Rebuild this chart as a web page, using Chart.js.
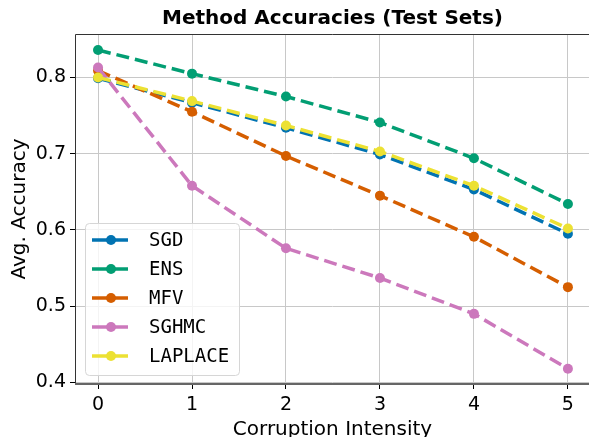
<!DOCTYPE html>
<html>
<head>
<meta charset="utf-8">
<script src="https://cdn.jsdelivr.net/npm/chart.js@4"></script>
<style>
    html, body { margin: 0; padding: 0; background: #fff; overflow: hidden; }
    /* a bit wider than the window: the right spine sits just outside, as in the reference */
    #wrap { width: 595px; height: 437px; }
</style>
</head>
<body>
<div id="wrap"><canvas id="chart"></canvas></div>
<script>
'use strict';

// corruption levels on the x axis
const intensities = [0, 1, 2, 3, 4, 5];
const yTickValues = [0.4, 0.5, 0.6, 0.7, 0.8];

// accuracies
const methodNames = ['SGD', 'ENS', 'MFV', 'SGHMC', 'LAPLACE'];
const sgdAcc = [0.799, 0.767, 0.734, 0.699, 0.653, 0.595];
const ensAcc = [0.836, 0.805, 0.775, 0.741, 0.694, 0.634];
const mfvAcc = [0.809, 0.755, 0.697, 0.645, 0.591, 0.525];
const sghmcAcc = [0.813, 0.658, 0.576, 0.537, 0.490, 0.418];
const laplaceAcc = [0.800, 0.769, 0.737, 0.703, 0.658, 0.602];

const colors = ['#0173b2', '#029e73', '#d55e00', '#cc78bc', '#ece133'];
const seriesList = [sgdAcc, ensAcc, mfvAcc, sghmcAcc, laplaceAcc];

const FONT = "'DejaVu Sans', sans-serif";
const MONO = "'DejaVu Sans Mono', monospace";

/**
 * @brief builds one line dataset
 */
function makeDataset(i) {
    return {
        label: methodNames[i],
        data: intensities.map((x, k) => ({ x: x, y: seriesList[i][k] })),
        borderColor: colors[i],
        backgroundColor: colors[i],
        borderWidth: 3.5,
        borderDash: [13, 6],
        pointRadius: 5,
        pointHoverRadius: 5,
        pointBorderWidth: 0,
        pointBackgroundColor: colors[i],
        tension: 0,
        order: methodNames.length - i
    };
}

// center the title over the plot area, like matplotlib does
const titlePlacePlugin = {
    id: 'titlePlace',
    afterLayout(chart) {
        if (chart.titleBlock) {
            chart.titleBlock.left = chart.chartArea.left;
            chart.titleBlock.right = chart.chartArea.right;
        }
    }
};

// frame round the plot area (matplotlib style spines)
const framePlugin = {
    id: 'frame',
    afterDatasetsDraw(chart) {
        const a = chart.chartArea;
        const ctx = chart.ctx;
        ctx.save();
        ctx.strokeStyle = '#333';
        ctx.lineWidth = 1;
        ctx.beginPath();
        ctx.moveTo(a.left + 0.5, a.bottom);
        ctx.lineTo(a.left + 0.5, a.top + 0.5);
        ctx.lineTo(a.right, a.top + 0.5);
        ctx.lineTo(a.right, a.bottom);
        ctx.stroke();
        ctx.strokeStyle = '#666';
        ctx.lineWidth = 2;
        ctx.beginPath();
        ctx.moveTo(a.left, a.bottom);
        ctx.lineTo(a.right, a.bottom);
        ctx.stroke();
        ctx.restore();
    }
};

// legend inside the plot, lower left, line + marker samples
const legendPlugin = {
    id: 'innerLegend',
    afterDraw(chart) {
        const a = chart.chartArea;
        const ctx = chart.ctx;
        const boxW = 154, boxH = 152;
        const x0 = a.left + 10, y0 = a.bottom - 9 - boxH;
        ctx.save();
        ctx.fillStyle = 'rgba(255,255,255,0.8)';
        ctx.strokeStyle = '#d6d6d6';
        ctx.lineWidth = 1;
        ctx.beginPath();
        ctx.roundRect(x0 + 0.5, y0 + 0.5, boxW, boxH, 4);
        ctx.fill();
        ctx.stroke();
        ctx.font = '19px ' + MONO;
        ctx.textBaseline = 'middle';
        for (let i = 0; i < methodNames.length; i++) {
            const cy = y0 + 17 + i * 29;
            ctx.strokeStyle = colors[i];
            ctx.lineWidth = 3.5;
            ctx.beginPath();
            ctx.moveTo(x0 + 7, cy);
            ctx.lineTo(x0 + 43, cy);
            ctx.stroke();
            ctx.fillStyle = colors[i];
            ctx.beginPath();
            ctx.arc(x0 + 26, cy, 5, 0, Math.PI * 2);
            ctx.fill();
            ctx.fillStyle = '#000';
            ctx.fillText(methodNames[i], x0 + 64, cy + 1);
        }
        ctx.restore();
    }
};

const chart = new Chart(document.getElementById('chart'), {
    type: 'line',
    data: { datasets: methodNames.map((n, i) => makeDataset(i)) },
    plugins: [titlePlacePlugin, framePlugin, legendPlugin],
    options: {
        responsive: true,
        maintainAspectRatio: false,
        animation: false,
        layout: { padding: { left: 0, right: 0, top: 0, bottom: 0 } },
        plugins: {
            legend: { display: false },
            tooltip: { enabled: false },
            title: {
                display: true,
                text: 'Method Accuracies (Test Sets)',
                color: '#000',
                font: { family: FONT, size: 20, weight: 'bold', lineHeight: 1.2 },
                padding: { top: 7, bottom: 3 }
            }
        },
        scales: {
            x: {
                type: 'linear',
                min: -0.245,
                max: 5.235,
                afterBuildTicks: (s) => { s.ticks = intensities.map(v => ({ value: v })); },
                afterFit: (s) => { s.height = 53; s.paddingRight = 0; s.paddingLeft = 0; },
                border: { display: false },
                grid: { color: '#c8c8c8', lineWidth: 1, tickColor: '#000', tickLength: 5 },
                ticks: {
                    color: '#000',
                    padding: 5,
                    font: { family: FONT, size: 19 },
                    maxRotation: 0,
                    callback: (v) => String(v)
                },
                title: {
                    display: true,
                    text: 'Corruption Intensity',
                    color: '#000',
                    font: { family: FONT, size: 20 },
                    padding: { top: 0, bottom: -5 }
                }
            },
            y: {
                min: 0.398,
                max: 0.857,
                afterBuildTicks: (s) => { s.ticks = yTickValues.map(v => ({ value: v })); },
                afterFit: (s) => { s.width = 75; },
                border: { display: false },
                grid: { color: '#c8c8c8', lineWidth: 1, tickColor: '#000', tickLength: 5 },
                ticks: {
                    color: '#000',
                    padding: 4,
                    font: { family: FONT, size: 19 },
                    callback: (v) => v.toFixed(1)
                },
                title: {
                    display: true,
                    text: 'Avg. Accuracy',
                    color: '#000',
                    font: { family: FONT, size: 20 },
                    padding: { top: 8, bottom: 4 }
                }
            }
        }
    }
});
</script>
</body>
</html>
